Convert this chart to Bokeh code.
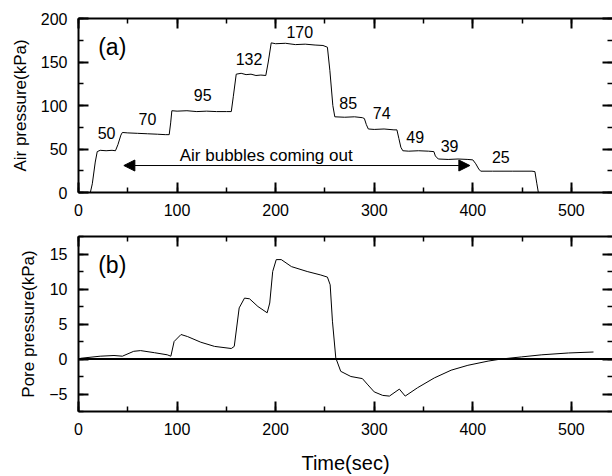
from bokeh.plotting import figure
from bokeh.layouts import column
from bokeh.models import (LinearAxis, SingleIntervalTicker, Span, Arrow, NormalHead,
                          CustomJSTickFormatter)
from bokeh.core.properties import value
from bokeh.embed import file_html
from bokeh.resources import INLINE

FONT = "Liberation Sans"

# ---- data: panel (a) air pressure ----
air_t = [12, 14, 17, 19, 22, 28, 34, 37.5, 40, 43, 44.5, 50, 60, 70, 80, 88, 92, 93.5, 94.7,
         100, 110, 120, 130, 140, 150, 155, 157, 160, 165, 170, 175, 180, 185, 190, 192.5, 195.5,
         200, 210, 220, 230, 240, 248, 252.5, 255, 258, 260, 270, 280, 288, 290, 292, 294,
         300, 310, 320, 323, 325, 327, 329, 335, 345, 355, 360.5, 362, 365, 375, 385, 395,
         400, 403, 406, 408, 420, 440, 460, 463, 465, 466.5]
air_p = [0, 10, 35, 47, 48.5, 48, 48.5, 48, 55, 66, 69, 68.5, 68, 67.5, 67, 66.5, 66.5, 80, 94,
         93.5, 94, 93, 93.5, 93, 93, 93, 110, 136, 137, 135.5, 136, 134.5, 135, 134.5, 150, 172,
         171, 171.5, 170, 170.5, 169.5, 169, 167, 140, 100, 87, 86.5, 87, 86, 85, 78, 73,
         72.5, 73, 72, 72, 62, 52, 48, 47.5, 48, 47.5, 47, 42, 38.5, 38, 38.5, 38,
         37.5, 33, 27, 24.5, 24.5, 24.5, 24.5, 24, 10, 0]

step_x = [28.5, 70, 126, 224.5, 173, 273.6, 307.5, 341.5, 376.4, 428.4]
step_y = [68, 85, 112, 185, 154, 102.6, 91, 63.6, 52.9, 40.6]
step_labels = ["50", "70", "95", "170", "132", "85", "74", "49", "39", "25"]

arrow_x = [46, 397]
arrow_y = 31
arrow_text = "Air bubbles coming out"
arrow_text_x = 190.4
arrow_text_y = 42.5

# ---- data: panel (b) pore pressure ----
pore_t = [2, 22, 36, 44.5, 56, 63, 77, 90, 93.7, 97, 104, 110.7, 124, 138, 155, 158, 163,
          168.4, 173.5, 182, 191.4, 194, 197, 200.6, 205.7, 216, 232, 245.8, 252.5, 255.3,
          257.6, 261, 266, 276.3, 288, 293.6, 300, 308.6, 315.4, 325.5, 331.4, 344, 361,
          378, 395, 415.5, 429, 449.5, 470, 497, 522.4]
pore_p = [0.1, 0.4, 0.5, 0.4, 1.1, 1.2, 0.9, 0.6, 0.4, 2.5, 3.5, 3.2, 2.4, 1.8, 1.5, 1.8, 7.3,
          8.7, 8.6, 7.5, 6.6, 8, 12.5, 14.2, 14.2, 13.2, 12.5, 12, 11.7, 10.6,
          5.4, 0.15, -1.76, -2.5, -2.8, -3.7, -4.7, -5.2, -5.3, -4.3, -5.3, -4.1, -2.7,
          -1.6, -0.9, -0.3, 0, 0.3, 0.6, 0.86, 1.0]

X_RANGE = (0, 541.7)


def style_axis(ax, labels=True):
    ax.axis_line_width = 2
    ax.axis_line_color = "black"
    ax.major_tick_in = 10
    ax.major_tick_out = 0
    ax.minor_tick_in = 5
    ax.minor_tick_out = 0
    ax.major_tick_line_width = 2
    ax.minor_tick_line_width = 1.5
    ax.major_tick_line_color = "black"
    ax.minor_tick_line_color = "black"
    ax.major_label_text_font = FONT
    ax.major_label_text_font_size = "16px"
    ax.major_label_text_color = "black"
    ax.major_label_standoff = 11
    ax.axis_label_text_font = FONT
    ax.axis_label_text_font_style = "normal"
    ax.axis_label_text_color = "black"
    if not labels:
        ax.formatter = CustomJSTickFormatter(code="return ''")
        ax.major_label_standoff = 0


def make_fig(height, y_range, y_interval, top, bottom):
    p = figure(width=612, height=height, x_range=X_RANGE, y_range=y_range,
               output_backend="svg", toolbar_location=None,
               x_axis_location=None, y_axis_location=None,
               min_border_left=78, min_border_right=0,
               min_border_top=top, min_border_bottom=bottom)
    p.grid.visible = False
    p.outline_line_color = None
    p.background_fill_color = "white"
    bottom_ax = LinearAxis(ticker=SingleIntervalTicker(interval=100, num_minor_ticks=2))
    style_axis(bottom_ax)
    p.add_layout(bottom_ax, "below")
    left_ax = LinearAxis(ticker=SingleIntervalTicker(interval=y_interval, num_minor_ticks=2))
    style_axis(left_ax)
    p.add_layout(left_ax, "left")
    top_ax = LinearAxis(ticker=SingleIntervalTicker(interval=100, num_minor_ticks=2))
    style_axis(top_ax, labels=False)
    p.add_layout(top_ax, "above")
    right_ax = LinearAxis(ticker=SingleIntervalTicker(interval=y_interval, num_minor_ticks=2))
    style_axis(right_ax, labels=False)
    right_ax.axis_line_color = None
    p.add_layout(right_ax, "right")
    return p, bottom_ax, left_ax


# ---- panel (a) ----
p1, p1_x, p1_y = make_fig(222, (0, 200), 50, 18, 30)
p1_y.axis_label = "Air pressure(kPa)"
p1_y.axis_label_text_font_size = "17px"
p1_y.axis_label_standoff = 8
p1.line(air_t, air_p, line_color="black", line_width=1)
p1.text(x=step_x, y=step_y, text=step_labels, text_font=value(FONT),
        text_font_size="16px", text_align="center", text_baseline="middle",
        text_color="black")
p1.text(x=[20], y=[167], text=["(a)"], text_font=value(FONT), text_font_size="23px",
        text_align="left", text_baseline="middle", text_color="black")
p1.text(x=[arrow_text_x], y=[arrow_text_y], text=[arrow_text], text_font=value(FONT),
        text_font_size="17px", text_align="center", text_baseline="middle",
        text_color="black")
p1.add_layout(Arrow(start=NormalHead(size=11, fill_color="black", line_color="black"),
                    end=NormalHead(size=11, fill_color="black", line_color="black"),
                    x_start=arrow_x[0], y_start=arrow_y, x_end=arrow_x[1], y_end=arrow_y,
                    line_width=1, line_color="black"))

# ---- panel (b) ----
p2, p2_x, p2_y = make_fig(254, (-7.5, 17.5), 5, 14, 65)
p2_y.axis_label = "Pore pressure(kPa)"
p2_y.axis_label_text_font_size = "17px"
p2_y.axis_label_standoff = 8
p2_x.axis_label = "Time(sec)"
p2_x.axis_label_text_font_size = "20px"
p2_x.axis_label_standoff = 14
p2.add_layout(Span(location=0, dimension="width", line_color="black", line_width=2))
p2.line(pore_t, pore_p, line_color="black", line_width=1)
p2.text(x=[20], y=[13.5], text=["(b)"], text_font=value(FONT), text_font_size="23px",
        text_align="left", text_baseline="middle", text_color="black")

layout = column(p1, p2, spacing=0)
open("out.html", "w").write(file_html(layout, INLINE))
